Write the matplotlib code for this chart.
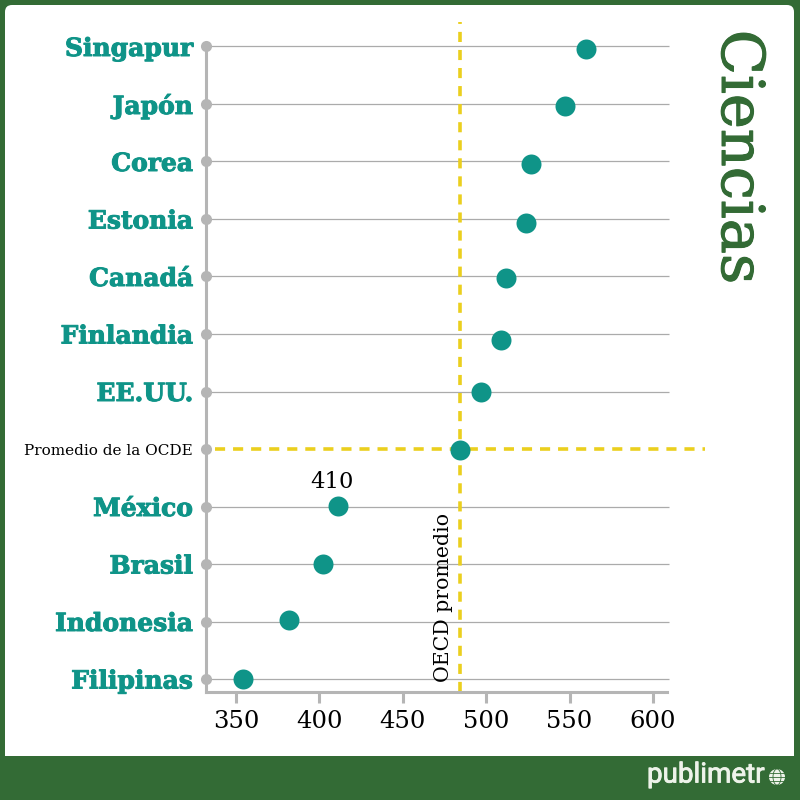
#!/usr/bin/env python3
import matplotlib
matplotlib.use('Agg')
import matplotlib.pyplot as plt
import matplotlib.patheffects as pe
from matplotlib.patches import Rectangle, FancyBboxPatch, Circle, Ellipse

countries = ['Singapur', 'Japón', 'Corea', 'Estonia', 'Canadá', 'Finlandia', 'EE.UU.',
             'Promedio de la OCDE', 'México', 'Brasil', 'Indonesia', 'Filipinas']
scores = [560, 547, 527, 524, 512, 509, 497, 484, 411, 402, 382, 354]
x_ticks = [350, 400, 450, 500, 550, 600]
oecd_avg = 484
oecd_row = 7

GREEN = '#336B35'
TEAL = '#0F9488'
GRAY = '#B5B5B5'
YELLOW = '#EBCF1E'
SLAB = 'DejaVu Serif'

fig = plt.figure(figsize=(8, 8), dpi=100, facecolor=GREEN)

# frame, in pixel coordinates
bg = fig.add_axes([0, 0, 1, 1])
bg.set_xlim(0, 800)
bg.set_ylim(800, 0)
bg.axis('off')
bg.add_patch(FancyBboxPatch((5, 5), 789, 800, boxstyle='round,pad=0,rounding_size=7',
                            fc='white', ec='none'))
bg.add_patch(Rectangle((0, 756), 800, 44, fc=GREEN, ec='none'))
bg.text(647, 775, 'publimetr', color='#EEF3EA', fontsize=20, family='Roboto',
        va='center', ha='left',
        path_effects=[pe.withStroke(linewidth=0.6, foreground='#EEF3EA')])
bg.add_patch(Circle((777, 777), 8, fc='#EEF3EA', ec='none'))
bg.add_patch(Ellipse((777, 777), 8, 16, fc='none', ec=GREEN, lw=0.6))
bg.plot([769, 785], [777, 777], color=GREEN, lw=0.6)
bg.plot([770, 784], [773, 773], color=GREEN, lw=0.6)
bg.plot([770, 784], [781, 781], color=GREEN, lw=0.6)
bg.text(739, 157, 'Ciencias', color=GREEN, fontsize=42.5, family=SLAB,
        rotation=-90, ha='center', va='center',
        path_effects=[pe.withStroke(linewidth=0.8, foreground=GREEN)])

ax = fig.add_axes([206 / 800, 108 / 800, 461 / 800, 670 / 800])
ax.patch.set_alpha(0)
ax.set_xlim(332, 608.4)
ax.set_ylim(11.226, -0.426)

rows = list(range(len(countries)))
other_rows = [r for r in rows if r != oecd_row]
# the dots sit a bit off their lines in the original
dot_shift = [0.04, 0.03, 0.04, 0.07, 0.03, 0.10, 0, 0.01, -0.01, 0, -0.03, 0]
dot_rows = [r + s for r, s in zip(rows, dot_shift)]

ax.hlines(other_rows, 332, 609.6, color='#ABABAB', lw=0.9, zorder=1, clip_on=False)
ax.axvline(oecd_avg, color=YELLOW, lw=2.6, ls=(0, (2.8, 2.2)), zorder=2)
ax.hlines(oecd_row, 337.4, 631, color=YELLOW, lw=2.6, ls=(0, (2.8, 2.2)), zorder=2, clip_on=False)
ax.scatter([332] * len(rows), rows, s=64, color=GRAY, zorder=3, clip_on=False, linewidths=0)
ax.scatter(scores, dot_rows, s=207, color=TEAL, zorder=4, clip_on=False, linewidths=0)

ax.spines['top'].set_visible(False)
ax.spines['right'].set_visible(False)
for side in ['left', 'bottom']:
    ax.spines[side].set_color(GRAY)
    ax.spines[side].set_linewidth(2.2)
ax.spines['left'].set_bounds(11.226, 0)

ax.set_yticks(rows)
ax.set_yticklabels(countries, color=TEAL, fontsize=18, fontweight='bold', family=SLAB,
                   va='center_baseline')
ax.tick_params(axis='y', length=0, pad=9.4)
for lab in ax.get_yticklabels():
    lab.set_path_effects([pe.withStroke(linewidth=0.7, foreground=TEAL)])
oecd_label = ax.get_yticklabels()[oecd_row]
oecd_label.set(color='black', fontsize=11, fontweight='normal', path_effects=[])

ax.set_xticks(x_ticks)
ax.set_xticklabels(x_ticks, fontsize=17.5, family=SLAB, color='black')
ax.tick_params(axis='x', length=8, width=2.2, color=GRAY, pad=5)

ax.text(scores[8] - 3.5, 8 - 0.42, '410', fontsize=16.3, family=SLAB, ha='center', va='center')
ax.text(oecd_avg - 9.5, 11.05, 'OECD promedio', fontsize=14.8, family=SLAB, rotation=90,
        ha='center', va='bottom')

plt.savefig('out.png', dpi=100, facecolor=fig.get_facecolor())
plt.close()
